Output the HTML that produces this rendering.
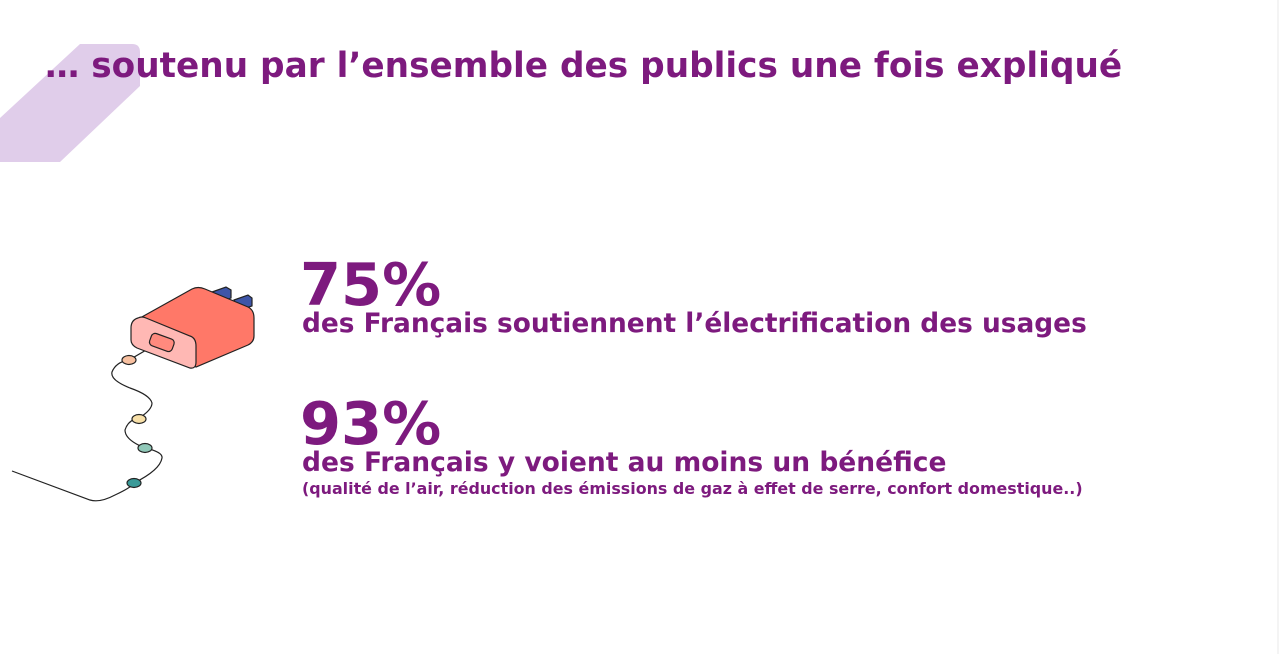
<!DOCTYPE html>
<html><head><meta charset="utf-8"><style>
body{margin:0;width:1280px;height:654px;background:#fff;position:relative;overflow:hidden;font-family:"DejaVu Sans","Liberation Sans",sans-serif;font-weight:bold;color:#7d1a7e}
.t{position:absolute;white-space:nowrap}
</style></head><body>
<svg width="1280" height="654" style="position:absolute;left:0;top:0">
<path d="M80,44 L132,44 Q140,44 140,52 L140,86 L60,162 L0,162 L0,118 Z" fill="#e0cdea"/>
<line x1="1278" y1="0" x2="1278" y2="654" stroke="#e8e8e8" stroke-width="1"/>
<g stroke="#222" stroke-width="1.2">
<path d="M12,471 L90,500 Q100,503 115,495 Q132,487 134,483 Q160,470 162,458 Q163,452 145,448 Q125,440 125,430 Q128,420 139,418 Q152,410 152,403 Q150,395 130,388 Q110,380 112,372 Q116,362 129,360 L160,342" fill="none"/>
<path d="M212,292 L226,287 L231,290 L231,298 L218,303 Z" fill="#3e55a8"/>
<path d="M234,300 L248,295 L252,298 L252,306 L238,311 Z" fill="#3e55a8"/>
<path d="M140,318 L192,289 Q198,286 205,289 L248,307 Q254,310 254,318 L254,336 Q254,342 248,345 L196,367 Z" fill="#ff7868"/>
<path d="M138,318 Q131,320 131,328 L131,340 Q131,345 137,348 L190,368 Q196,369 196,362 L196,346 Q196,338 190,336 L146,318 Q142,316 138,318 Z" fill="#ffb8b4"/>
<rect x="150" y="336" width="24" height="13" rx="4" transform="rotate(20 162 342)" fill="#ff8a7e"/>
<ellipse cx="129" cy="360" rx="7" ry="4.5" fill="#f8c0a0"/>
<ellipse cx="139" cy="419" rx="7" ry="4.5" fill="#f8e0a8"/>
<ellipse cx="145" cy="448" rx="7" ry="4.5" fill="#90c8b8"/>
<ellipse cx="134" cy="483" rx="7" ry="4.5" fill="#3a9a98"/>
</g>
</svg>
<div class="t" style="left:45px;top:46px;font-size:34.3px">… soutenu par l’ensemble des publics une fois expliqué</div>
<div class="t" style="left:300px;top:250px;font-size:59px">75%</div>
<div class="t" style="left:302px;top:308px;font-size:26.4px">des Français soutiennent l’électrification des usages</div>
<div class="t" style="left:300px;top:389px;font-size:59px">93%</div>
<div class="t" style="left:302px;top:447px;font-size:26.5px">des Français y voient au moins un bénéfice</div>
<div class="t" style="left:302px;top:479px;font-size:15.9px">(qualité de l’air, réduction des émissions de gaz à effet de serre, confort domestique..)</div>
</body></html>
